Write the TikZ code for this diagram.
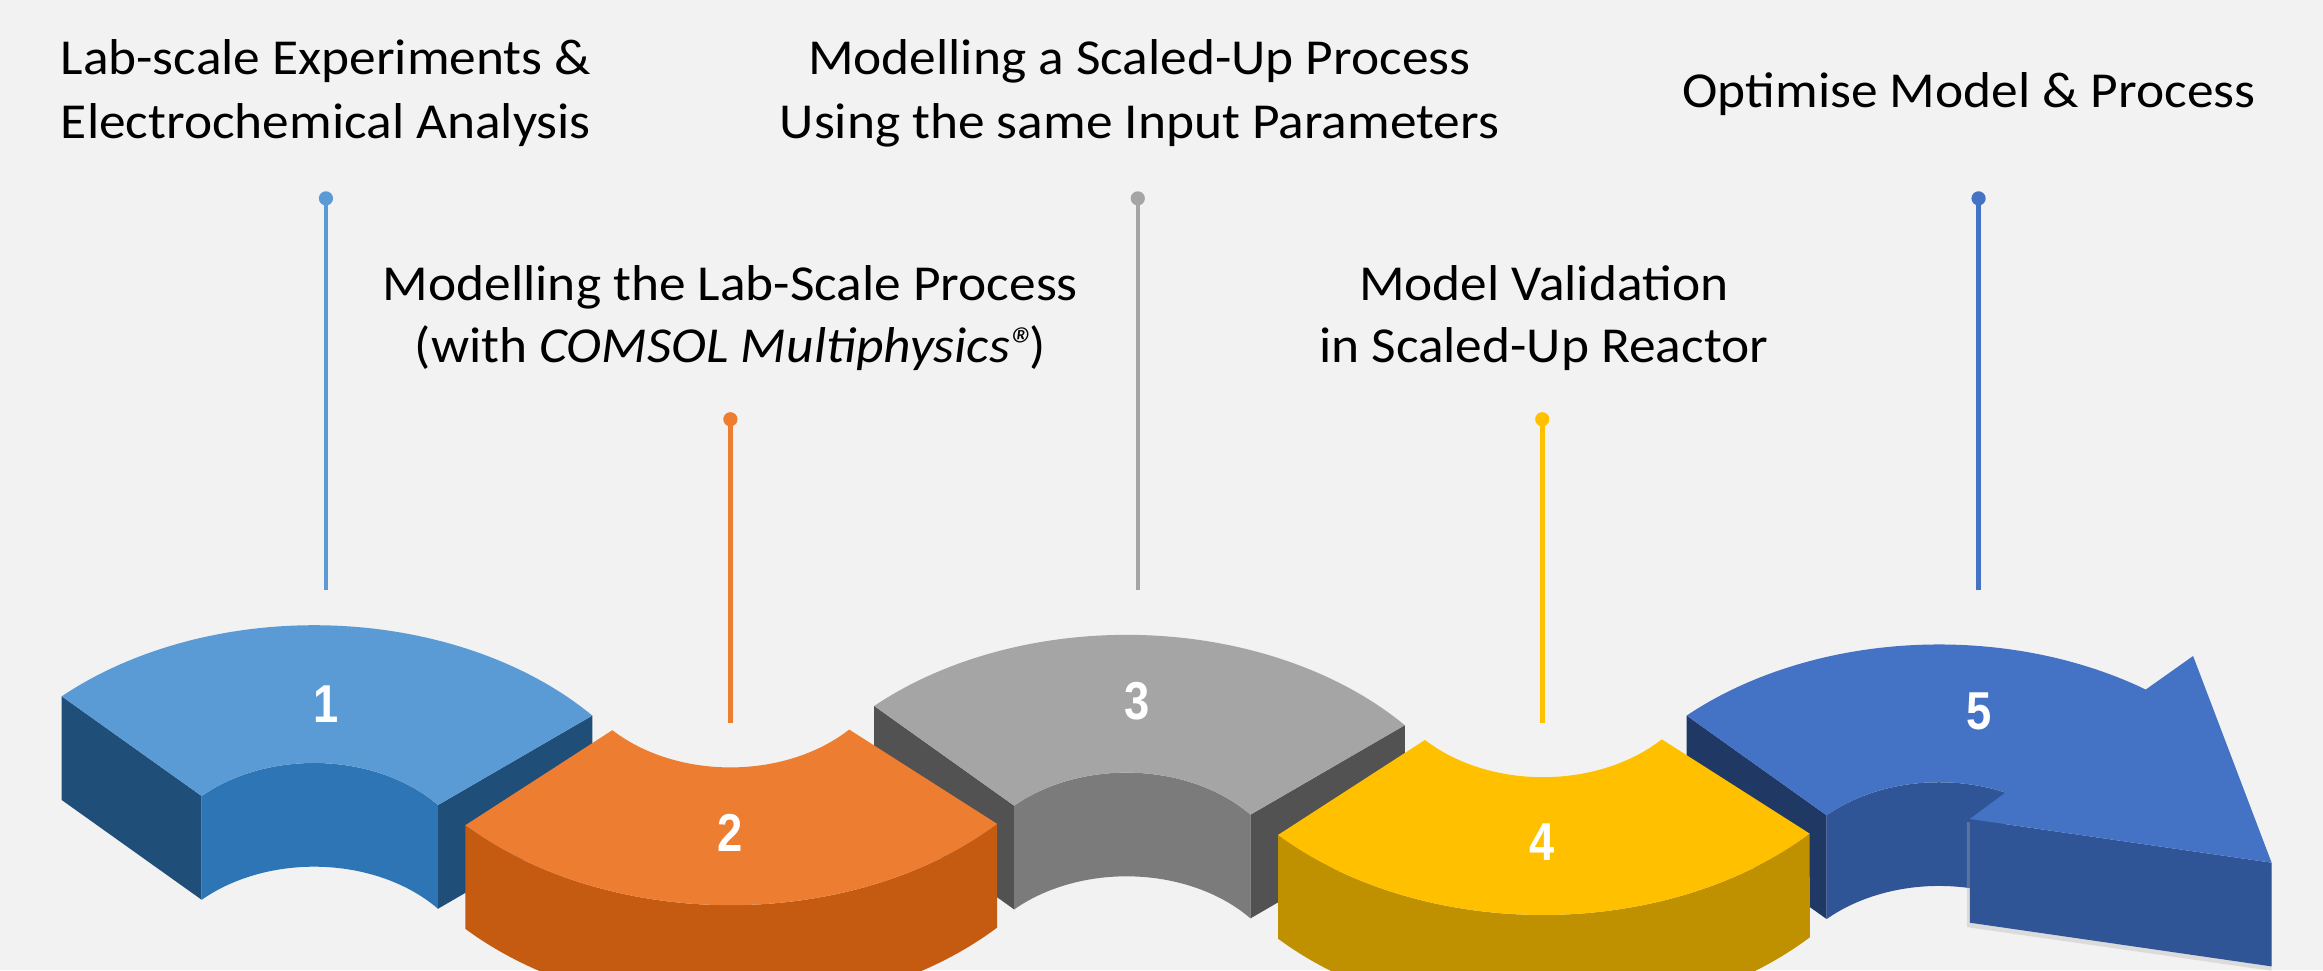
\documentclass[tikz,border=0pt]{standalone}
\usepackage{fontspec}
\setmainfont{Carlito}[FakeStretch=1.06]
\newfontfamily\numfont[FakeStretch=0.85]{Liberation Sans}
\usetikzlibrary{calc}

\definecolor{bgcol}{HTML}{F2F2F2}
% blue piece
\definecolor{bluetop}{HTML}{5B9BD5}
\definecolor{blueside}{HTML}{1F4E79}
\definecolor{blueinner}{HTML}{2E75B6}
% orange piece
\definecolor{orangetop}{HTML}{ED7D31}
\definecolor{orangefront}{HTML}{C55A11}
% grey piece
\definecolor{greytop}{HTML}{A5A5A5}
\definecolor{greyside}{HTML}{525252}
\definecolor{greyinner}{HTML}{7B7B7B}
% gold piece
\definecolor{goldtop}{HTML}{FFC000}
\definecolor{goldfront}{HTML}{BF9000}
% arrow piece
\definecolor{navytop}{HTML}{4472C4}
\definecolor{navyside}{HTML}{1F3864}
\definecolor{navyinner}{HTML}{2F5597}

% ring geometry (outer/inner radii, extrusion depth)
\def\Ro{247}\def\Rv{174}
\def\ri{110}\def\rv{81}
\def\dd{70}

% point on the ellipse: radii #1,#2, angle #3, vertical offset #4
\newcommand\ept[4]{({\cx+(#1)*cos(#3)},{\cy+(#4)-(#2)*sin(#3)})}

% upper half-ring piece: centre #1,#2; end angles #3 (left) #4 (right);
% colours #5 top, #6 cut faces, #7 inner wall
\newcommand\archpiece[7]{%
  \def\cx{#1}\def\cy{#2}\def\aL{#3}\def\aR{#4}%
  \fill[#6] \ept{\Ro}{\Rv}{\aL}{0} -- \ept{\ri}{\rv}{\aL}{0} -- \ept{\ri}{\rv}{\aL}{\dd} -- \ept{\Ro}{\Rv}{\aL}{\dd} -- cycle;
  \fill[#6] \ept{\Ro}{\Rv}{\aR}{0} -- \ept{\ri}{\rv}{\aR}{0} -- \ept{\ri}{\rv}{\aR}{\dd} -- \ept{\Ro}{\Rv}{\aR}{\dd} -- cycle;
  \fill[#7] plot[domain=\aL:\aR,samples=60,variable=\t] ({\cx+\ri*cos(\t)},{\cy-\rv*sin(\t)})
     -- plot[domain=\aR:\aL,samples=60,variable=\t] ({\cx+\ri*cos(\t)},{\cy+\dd-\rv*sin(\t)}) -- cycle;
  \fill[#5] plot[domain=\aL:\aR,samples=80,variable=\t] ({\cx+\Ro*cos(\t)},{\cy-\Rv*sin(\t)})
     -- plot[domain=\aR:\aL,samples=60,variable=\t] ({\cx+\ri*cos(\t)},{\cy-\rv*sin(\t)}) -- cycle;
}

% lower half-ring piece: centre #1,#2; end angles #3,#4; colours #5 top, #6 front wall
\newcommand\bowlpiece[6]{%
  \def\cx{#1}\def\cy{#2}\def\aL{#3}\def\aR{#4}%
  \fill[#6] plot[domain=\aL:\aR,samples=80,variable=\t] ({\cx+\Ro*cos(\t)},{\cy-\Rv*sin(\t)})
     -- plot[domain=\aR:\aL,samples=80,variable=\t] ({\cx+\Ro*cos(\t)},{\cy+\dd-\Rv*sin(\t)}) -- cycle;
  \fill[#5] plot[domain=\aL:\aR,samples=80,variable=\t] ({\cx+\Ro*cos(\t)},{\cy-\Rv*sin(\t)})
     -- plot[domain=\aR:\aL,samples=60,variable=\t] ({\cx+\ri*cos(\t)},{\cy-\rv*sin(\t)}) -- cycle;
}

\tikzset{
  lbl/.style={anchor=base, inner sep=0pt, font=\fontsize{34}{42}\selectfont, text=black},
  num/.style={inner sep=0pt, font=\numfont\bfseries\fontsize{36}{36}\selectfont, text=white},
  stemline/.style={line width=3.1pt},
}

\begin{document}
\begin{tikzpicture}[x=1pt,y=-1pt]
\fill[bgcol] (0,0) rectangle (1568,655);
\useasboundingbox (0,0) rectangle (1568,655);

% stems with their dots
\foreach \nm/\xx/\ya/\yb/\col in {s1/220/133.9/398.5/bluetop, s2/493/283/488/orangetop,
    s3/768/133.9/398.5/greytop, s4/1041/283/488/goldtop, s5/1335.5/133.9/398.5/navytop}{
  \coordinate (\nm top) at (\xx,\ya);
  \coordinate (\nm bot) at (\xx,\yb);
  \draw[stemline,\col] (\nm bot) -- (\nm top);
  \fill[\col] (\nm top) circle[radius=4.8pt];
}

% upper half-rings
\archpiece{212}{596}{133.6}{40.5}{bluetop}{blueside}{blueinner}
\archpiece{760.4}{602.5}{133.6}{40.5}{greytop}{greyside}{greyinner}

% final piece with arrow head
\def\cx{1308.8}\def\cy{609}
\coordinate (barbout) at (1480.3,442.8);
\coordinate (tip) at (1533.3,582.3);
\coordinate (barbin) at (1329.6,552.8);
\coordinate (tipb) at (1533.3,652.3);
\coordinate (barbinb) at (1329.6,622.8);
\fill[navyside] \ept{\Ro}{\Rv}{133.6}{0} -- \ept{\ri}{\rv}{133.6}{0} -- \ept{\ri}{\rv}{133.6}{\dd} -- \ept{\Ro}{\Rv}{133.6}{\dd} -- cycle;
\fill[navyinner] plot[domain=133.6:66,samples=60,variable=\t] ({\cx+\ri*cos(\t)},{\cy-\rv*sin(\t)})
   -- plot[domain=66:133.6,samples=60,variable=\t] ({\cx+\ri*cos(\t)},{\cy+\dd-\rv*sin(\t)}) -- cycle;
\fill[black!30,opacity=0.35] ([xshift=-2pt,yshift=-2pt]barbin) -- ([yshift=-2pt]tip) -- ([yshift=-3pt]tipb) -- ([xshift=-2pt,yshift=-3pt]barbinb) -- cycle;
\fill[navyinner] (barbin) -- (tip) -- (tipb) -- (barbinb) -- cycle;
\fill[navytop] plot[domain=133.6:55.6,samples=80,variable=\t] ({\cx+\Ro*cos(\t)},{\cy-\Rv*sin(\t)})
   -- (barbout) -- (tip) -- (barbin)
   -- plot[domain=66:133.6,samples=60,variable=\t] ({\cx+\ri*cos(\t)},{\cy-\rv*sin(\t)}) -- cycle;

% lower half-rings
\bowlpiece{493}{437}{223.6}{316.8}{orangetop}{orangefront}
\bowlpiece{1041.5}{443.6}{223.6}{316.8}{goldtop}{goldfront}

% step numbers
\node[num] (n1) at (220,475) {1};
\node[num] (n2) at (493,562.5) {2};
\node[num] (n3) at (767.5,473) {3};
\node[num] (n4) at (1041,568.5) {4};
\node[num] (n5) at (1336,480) {5};

% step descriptions
\node[lbl] (t1a) at (220,50.6) {Lab-scale Experiments \&};
\node[lbl] (t1b) at (220,93.4) {Electrochemical Analysis};
\node[lbl] (t2a) at (493,202.5) {Modelling the Lab-Scale Process};
\node[lbl] (t2b) at (493,244.5) {(with {\itshape COMSOL Multiphysics®}\kern-5pt)};
\node[lbl] (t3a) at (769,50.6) {Modelling a Scaled-Up Process};
\node[lbl] (t3b) at (769,93.4) {Using the same Input Parameters};
\node[lbl] (t4a) at (1042,202.5) {Model Validation};
\node[lbl] (t4b) at (1042,244.5) {in Scaled-Up Reactor};
\node[lbl] (t5a) at (1329,72.7) {Optimise Model \& Process};
\end{tikzpicture}
\end{document}
